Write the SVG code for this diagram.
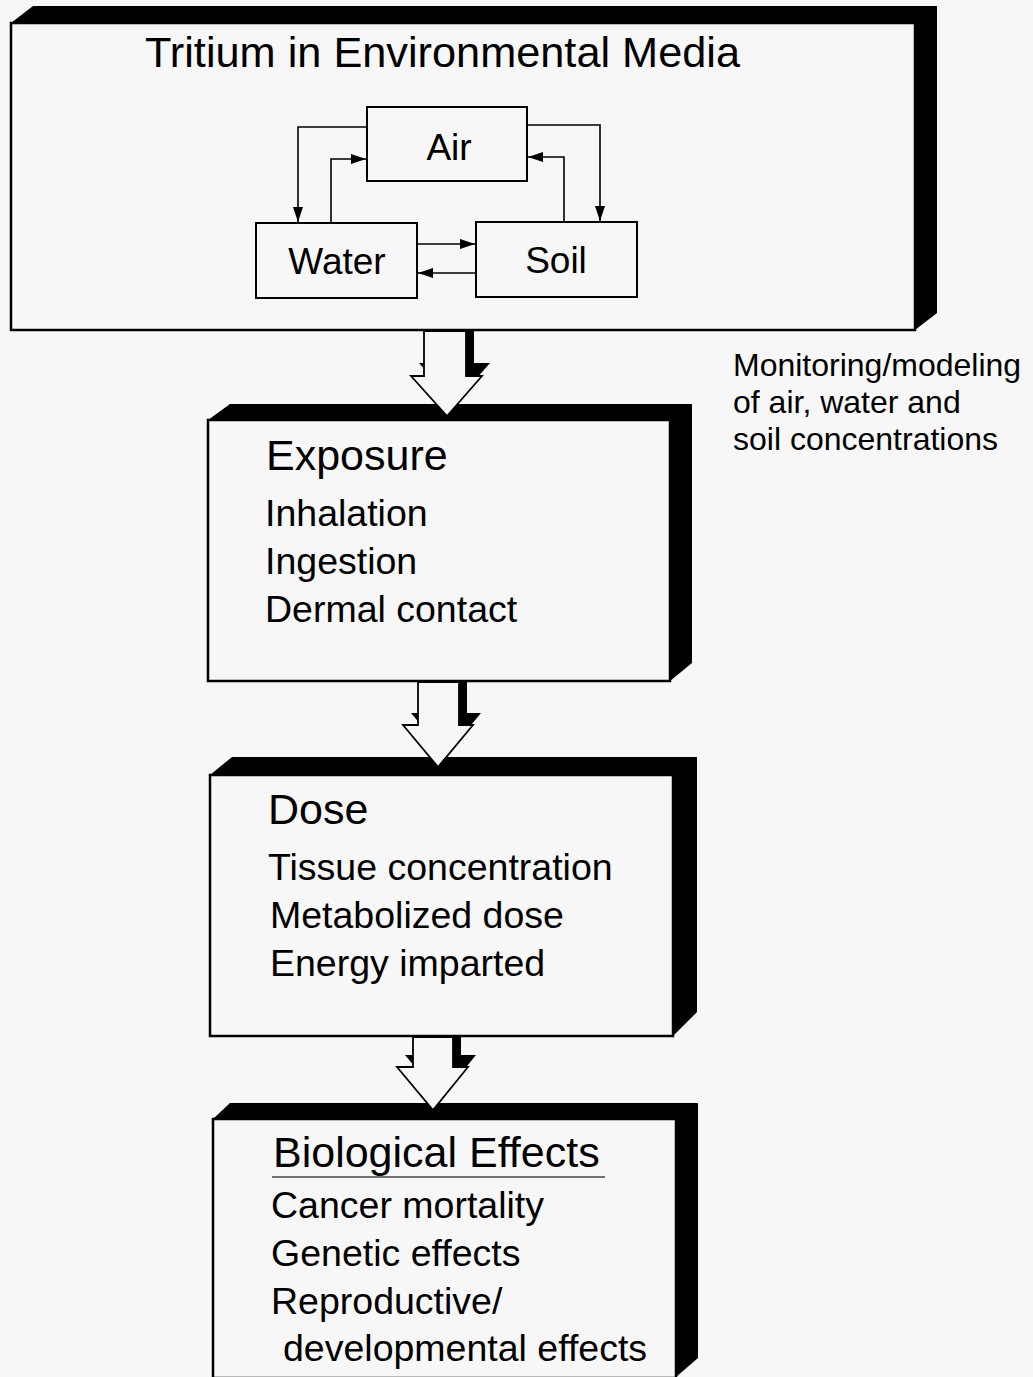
<svg xmlns="http://www.w3.org/2000/svg" width="1033" height="1377" viewBox="0 0 1033 1377">
<style>
.bg{fill:#f6f7f6}
.face{fill:#f6f7f6;stroke:#000;stroke-width:2.5}
.ext{fill:#000}
.small{fill:#f6f7f6;stroke:#000;stroke-width:2}
.conn{fill:none;stroke:#000;stroke-width:1.6}
.sh{fill:#000}
.ar{fill:#f6f7f6;stroke:#000;stroke-width:1.8;stroke-linejoin:miter}
text{font-family:"Liberation Sans",Arial,Helvetica,sans-serif;fill:#000}
.title{font-size:43px}
.head{font-size:43px}
.item{font-size:37.5px}
.lab{font-size:37px}
.note{font-size:32px}
</style>
<defs>
<marker id="ah" markerUnits="userSpaceOnUse" markerWidth="17" markerHeight="12" refX="15" refY="5" orient="auto">
<path d="M0,0 L15,5 L0,10 z" fill="#000"/>
</marker>
</defs>
<rect class="bg" x="0" y="0" width="1033" height="1377"/>

<g id="media">
<polygon class="ext" points="11,23 33,6 937,6 937,313 915,330 915,23"/>
<rect class="face" x="11" y="23" width="904" height="307"/>
<text class="title" x="145" y="67" textLength="595" lengthAdjust="spacingAndGlyphs">Tritium in Environmental Media</text>
</g>

<g id="air">
<rect class="small" x="367" y="107" width="160" height="74"/>
<text class="lab" x="449" y="160" text-anchor="middle">Air</text>
</g>
<g id="water">
<rect class="small" x="256" y="223" width="161" height="75"/>
<text class="lab" x="337" y="274" text-anchor="middle">Water</text>
</g>
<g id="soil">
<rect class="small" x="476" y="222" width="161" height="75"/>
<text class="lab" x="556" y="273" text-anchor="middle">Soil</text>
</g>

<g id="exposure">
<polygon class="ext" points="208,420 230,404 692,404 692,663 670,681 670,420"/>
<rect class="face" x="208" y="420" width="462" height="261"/>
<text class="head" x="266" y="470">Exposure</text>
<text class="item" x="265" y="526">Inhalation</text>
<text class="item" x="265" y="574">Ingestion</text>
<text class="item" x="265" y="622">Dermal contact</text>
</g>

<g id="dose">
<polygon class="ext" points="210,775 232,757 697,757 697,1012 673,1036 673,775"/>
<rect class="face" x="210" y="775" width="463" height="261"/>
<text class="head" x="268" y="824">Dose</text>
<text class="item" x="268" y="880">Tissue concentration</text>
<text class="item" x="270" y="928">Metabolized dose</text>
<text class="item" x="270" y="976">Energy imparted</text>
</g>

<g id="effects">
<polygon class="ext" points="213,1119 230,1103 698,1103 698,1358 676,1377 676,1119"/>
<rect class="face" x="213" y="1119" width="463" height="259"/>
<text class="head" x="273" y="1167">Biological Effects</text>
<line x1="272" y1="1177" x2="605" y2="1177" stroke="#444" stroke-width="1.5"/>
<text class="item" x="271" y="1218">Cancer mortality</text>
<text class="item" x="271" y="1266">Genetic effects</text>
<text class="item" x="271" y="1314">Reproductive/</text>
<text class="item" x="283" y="1361">developmental effects</text>
</g>

<g id="note">
<text class="note" x="733" y="376">Monitoring/modeling</text>
<text class="note" x="733" y="413">of air, water and</text>
<text class="note" x="733" y="450">soil concentrations</text>
</g>

<g id="connectors">
<path class="conn" d="M367,127 H298 V222" marker-end="url(#ah)"/>
<path class="conn" d="M331,223 V159 H366" marker-end="url(#ah)"/>
<path class="conn" d="M527,125 H600 V221" marker-end="url(#ah)"/>
<path class="conn" d="M564,222 V157 H528" marker-end="url(#ah)"/>
<path class="conn" d="M417,244 H475" marker-end="url(#ah)"/>
<path class="conn" d="M476,273 H418" marker-end="url(#ah)"/>

<polygon class="sh" points="432,331 432,363 419,363 455,403 490,363 474,363 474,331"/>
<polygon class="ar" points="424,331 424,376 411,376 447,416 482,376 466,376 466,331"/>

<polygon class="sh" points="426,682 426,713 411,713 446,755 481,713 467,713 467,682"/>
<polygon class="ar" points="418,682 418,725 403,725 438,767 473,725 459,725 459,682"/>

<polygon class="sh" points="421,1037 421,1055 405,1055 441,1098 476,1055 461,1055 461,1037"/>
<polygon class="ar" points="413,1037 413,1067 397,1067 433,1110 468,1067 453,1067 453,1037"/>
</g>
</svg>
